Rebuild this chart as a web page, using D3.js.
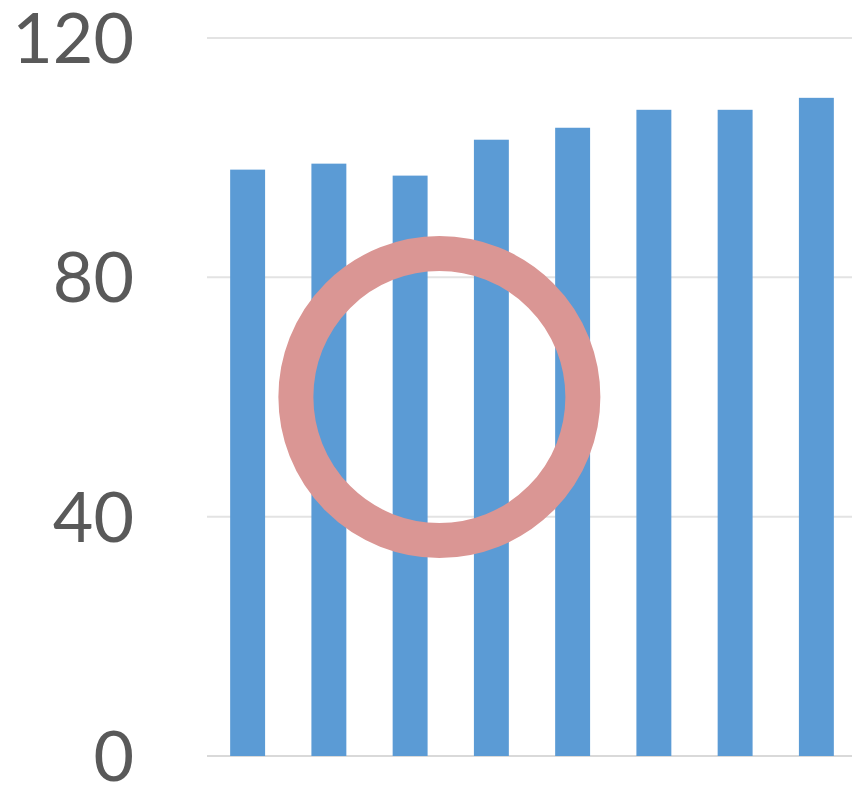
<!DOCTYPE html>
<html>
<head>
<meta charset="utf-8">
<script src="https://cdn.jsdelivr.net/npm/d3@7"></script>
<style>
  html, body { margin: 0; padding: 0; background: #fff; }
  svg { display: block; }
</style>
</head>
<body>
<svg id="chart" width="852" height="785"></svg>
<script>
// Series data
const categories = ["1", "2", "3", "4", "5", "6", "7", "8"];
const values = [98, 99, 97, 103, 105, 108, 108, 110];
const tickValues = [0, 40, 80, 120];

// Highlight ring annotation: centred on a y value, between categories 3 and 4
const ringValue = 60;
const ringCategory = "3";
const ringOffset = 0.36; // fraction of a step to the right of the band centre

const width = 852, height = 785;
const svg = d3.select("#chart");

const x = d3.scaleBand()
  .domain(categories)
  .range([207, 857])
  .paddingInner(0.57)
  .paddingOuter(0.285);

const y = d3.scaleLinear()
  .domain([0, 120])
  .range([756, 38]);

// Gridlines
svg.append("g")
  .selectAll("line")
  .data(tickValues)
  .join("line")
  .attr("x1", 207)
  .attr("x2", width)
  .attr("y1", d => y(d))
  .attr("y2", d => y(d))
  .attr("stroke", d => d === 0 ? "#d9d9d9" : "#e3e3e3")
  .attr("stroke-width", 2);

// Y axis labels
const yAxis = d3.axisLeft(y).tickValues(tickValues).tickSize(0).tickPadding(0);
const gy = svg.append("g")
  .attr("transform", "translate(134,0)")
  .call(yAxis);
gy.select(".domain").remove();
gy.selectAll("text")
  .attr("fill", "#595959")
  .attr("font-family", "Lato, 'Open Sans', sans-serif")
  .attr("font-size", 70)
  .attr("dy", "0.35em");

// Bars
svg.append("g")
  .selectAll("rect")
  .data(values)
  .join("rect")
  .attr("x", (d, i) => x(categories[i]))
  .attr("width", x.bandwidth())
  .attr("y", d => y(d))
  .attr("height", d => y(0) - y(d))
  .attr("fill", "#5b9bd5");

// Ring annotation
const ringR = 143.5;
svg.append("circle")
  .attr("cx", x(ringCategory) + x.bandwidth() / 2 + ringOffset * x.step())
  .attr("cy", y(ringValue))
  .attr("r", ringR)
  .attr("fill", "none")
  .attr("stroke", "#da9694")
  .attr("stroke-width", 35);
</script>
</body>
</html>
